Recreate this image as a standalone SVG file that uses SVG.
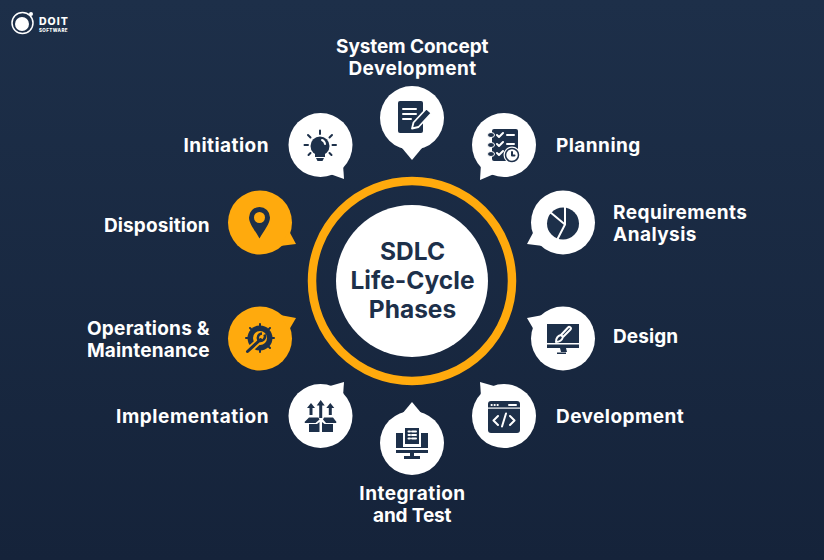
<svg xmlns="http://www.w3.org/2000/svg" width="824" height="560" viewBox="0 0 824 560">
  <style>
    .lbl { font-family: "Inter", "Liberation Sans", sans-serif; font-weight: 700; font-size: 19px; letter-spacing: 0.45px; fill: #ffffff; }
    .ttl { font-family: "Inter", "Liberation Sans", sans-serif; font-weight: 700; font-size: 24.5px; fill: #1d304a; text-anchor: middle; }
    .w { fill: #ffffff; }
    .o { fill: #ffaa0d; }
    .i { fill: #1d304a; }
    .lw { fill: none; stroke: #ffffff; stroke-width: 2; stroke-linecap: round; stroke-linejoin: round; }
    .ld { fill: none; stroke: #1d304a; stroke-width: 2; stroke-linecap: round; stroke-linejoin: round; }
  </style>
  <defs>
    <linearGradient id="bg" x1="0" y1="0" x2="0" y2="1">
      <stop offset="0" stop-color="#1d2f49"/>
      <stop offset="1" stop-color="#15233a"/>
    </linearGradient>
  </defs>
  <rect width="824" height="560" fill="url(#bg)"/>

  <g id="logo">
    <circle cx="22.500" cy="23" r="10.500" fill="none" stroke="#ffffff" stroke-width="1.500"/>
    <circle cx="22" cy="24" r="7" fill="#ffffff"/>
    <circle cx="31" cy="14" r="2" fill="#ffffff"/>
    <text x="39" y="25" font-family="Inter, 'Liberation Sans', sans-serif" font-weight="800" font-size="10.500" letter-spacing="1" fill="#ffffff">DOIT</text>
    <text x="39" y="31.500" font-family="Inter, 'Liberation Sans', sans-serif" font-weight="800" font-size="4.500" letter-spacing="0.400" fill="#ffffff">SOFTWARE</text>
  </g>

  <g id="center">
    <circle cx="412" cy="281" r="100" fill="none" stroke="#ffaa0d" stroke-width="8.500"/>
    <circle cx="412" cy="281" r="76" fill="#ffffff"/>
    <text class="ttl" x="412.500" y="260">SDLC</text>
    <text class="ttl" x="412.500" y="289">Life-Cycle</text>
    <text class="ttl" x="412.500" y="318">Phases</text>
  </g>

  <g id="system-concept">
    <circle class="w" cx="412" cy="118" r="32"/>
    <path class="w" d="M412 160L402 148H422Z"/>
    <rect class="i" x="398" y="101" width="25" height="32" rx="2"/>
    <path class="lw" d="M403 109H416M403 114H416M403 119H411" stroke-width="1.800"/>
    <path class="i" d="M412 128.500l1.500-6 13-14 5 4.500-13 14Z" stroke="#ffffff" stroke-width="1.800" stroke-linejoin="round"/>
    <text class="lbl" x="336" y="52.500" textLength="153">System Concept</text>
    <text class="lbl" x="412.500" y="74.500" text-anchor="middle">Development</text>
  </g>

  <g id="initiation">
    <circle class="w" cx="320.500" cy="145" r="32"/>
    <path class="w" d="M344 179L330 174L343 164Z"/>
    <circle class="i" cx="320" cy="146" r="9.500"/>
    <path class="i" d="M315 153h10v4h-10ZM316 158h8l-1.500 3h-5Z"/>
    <path class="lw" d="M322 140a5 5 0 0 1 3 4" stroke-width="1.500"/>
    <path class="ld" d="M320 130.500v3.500M308 135l2.500 2.500M332 135l-2.500 2.500M304.500 145h3.500M332.500 145h3.500M308.500 155l2-2M331.500 155l-2-2"/>
    <text class="lbl" x="269" y="151.500" text-anchor="end">Initiation</text>
  </g>

  <g id="planning">
    <circle class="w" cx="504" cy="145" r="32"/>
    <path class="w" d="M480 180L494 174L481 164Z"/>
    <rect class="i" x="492" y="129" width="26" height="32" rx="2"/>
    <ellipse class="i" cx="491" cy="135" rx="3.500" ry="2.500" stroke="#ffffff" stroke-width="1"/>
    <ellipse class="i" cx="491" cy="145" rx="3.500" ry="2.500" stroke="#ffffff" stroke-width="1"/>
    <ellipse class="i" cx="491" cy="154" rx="3.500" ry="2.500" stroke="#ffffff" stroke-width="1"/>
    <path class="lw" d="M497 135l2 2 4-4M497 144l2 2 4-4M497 153l2 2 4-4M507 135h7M507 144h7" stroke-width="1.500"/>
    <circle class="w" cx="512" cy="155" r="8.500"/>
    <circle cx="512" cy="155" r="6.500" fill="none" stroke="#1d304a" stroke-width="1.500"/>
    <path class="ld" d="M512 152v3.500h2.500" stroke-width="1.200"/>
    <text class="lbl" x="556" y="151.500">Planning</text>
  </g>

  <g id="requirements">
    <circle class="w" cx="563" cy="222.500" r="32"/>
    <path class="w" d="M527 244L534 231L543 246Z"/>
    <circle class="i" cx="563" cy="223.500" r="16"/>
    <path class="lw" d="M550 212L565 224.500L557 240M565 205V224.500" stroke-width="2.400" stroke-linecap="butt"/>
    <text class="lbl" x="613" y="218.500">Requirements</text>
    <text class="lbl" x="613" y="240.500">Analysis</text>
  </g>

  <g id="design">
    <circle class="w" cx="563" cy="338.500" r="32"/>
    <path class="w" d="M527 318L543 315L534 330Z"/>
    <rect class="i" x="547" y="324" width="32" height="19"/>
    <rect class="i" x="547" y="344.500" width="32" height="3.500"/>
    <path class="i" d="M560 348h6l1 4h-6ZM557 352.500h9v1.500h-9Z"/>
    <path class="lw" d="M556 342c0-3 1-6 5-7l2 2c-1 3-3 5-7 5ZM561 335l7-7.500a1.500 1.500 0 0 1 2.500 2L563 337" stroke-width="1.500"/>
    <text class="lbl" x="613" y="342.500" textLength="65.500">Design</text>
  </g>

  <g id="development">
    <circle class="w" cx="504" cy="416" r="32"/>
    <path class="w" d="M480 382L494 386L481 396Z"/>
    <rect class="i" x="488" y="401" width="32" height="32" rx="3"/>
    <rect class="w" x="488" y="407.500" width="32" height="1.200"/>
    <path class="lw" d="M491.500 405h.3M494.500 405h.3M497.500 405h.3M509 405h7" stroke-width="1.500"/>
    <path class="lw" d="M498 416l-4.500 4.500 4.500 4.500M510 416l4.500 4.500-4.500 4.500M506 413.500l-4 13" stroke-width="1.800"/>
    <text class="lbl" x="556" y="422.500">Development</text>
  </g>

  <g id="integration">
    <circle class="w" cx="412" cy="443" r="32"/>
    <path class="w" d="M412 402L402 414H422Z"/>
    <rect class="i" x="396" y="433" width="32" height="15"/>
    <rect class="w" x="403" y="428" width="18" height="19"/>
    <rect class="i" x="405" y="428" width="14" height="16"/>
    <rect class="i" x="396" y="450" width="32" height="3"/>
    <path class="i" d="M410 453h4v3h6v3h-16v-3h6Z"/>
    <path class="lw" d="M408.500 431.500h1.500M412 431.500h4M408.500 435h1.500M412 435h4M408.500 438.500h1.500M412 438.500h4" stroke-width="1.300" stroke-linecap="butt"/>
    <text class="lbl" x="412.500" y="499.500" text-anchor="middle">Integration</text>
    <text class="lbl" x="373" y="521.500" textLength="79">and Test</text>
  </g>

  <g id="implementation">
    <circle class="w" cx="320.500" cy="416" r="32"/>
    <path class="w" d="M344 382L330 386L343 396Z"/>
    <path class="i" d="M311 403l4 5h-2.500v7h-3v-7H307ZM320.700 400l4 5.500h-2.500v12.500h-3v-12.500h-2.500ZM330.300 403l4 5h-2.500v7h-3v-7h-2.500Z"/>
    <path class="i" d="M309 417.500h9.500l1 2-4 3.500H305l-.5-1ZM323 419.500l1-2h9l3.500 4.500-.5 1h-10Z"/>
    <path class="i" d="M309 424h8l2.500-2V432H309ZM322 422l2.500 2h8.500v8H322Z"/>
    <text class="lbl" x="116" y="422.500" textLength="153">Implementation</text>
  </g>

  <g id="disposition">
    <circle class="o" cx="260" cy="222.500" r="32"/>
    <path class="o" d="M296 244L289 231L280 246Z"/>
    <path class="i" d="M259.500 207a10.500 10.500 0 0 1 10.500 10.500c0 6-6 13-10.500 21-4.500-8-10.500-15-10.500-21A10.500 10.500 0 0 1 259.500 207Z"/>
    <circle class="o" cx="259.500" cy="217.500" r="5.500"/>
    <text class="lbl" x="104" y="231.500" textLength="106">Disposition</text>
  </g>

  <g id="operations">
    <circle class="o" cx="260" cy="338.500" r="32"/>
    <path class="o" d="M296 318L280 315L289 330Z"/>
    <circle class="i" cx="260" cy="338" r="12.500"/>
    <path class="ld" d="M260 324v3M260 349v3M246 338h3M271 338h3M250 328l2.200 2.200M267.800 345.800l2.200 2.200M270 328l-2.200 2.200M252.200 345.800l-2.200 2.200" stroke-width="4.500" stroke-linecap="butt"/>
    <circle class="o" cx="260" cy="338" r="7"/>
    <path d="M247 352l13-12" stroke="#ffaa0d" stroke-width="6.500" stroke-linecap="round"/>
    <path d="M247.500 351.500l13-12" stroke="#1d304a" stroke-width="3" stroke-linecap="round"/>
    <path d="M258.500 340.500a4.500 4.500 0 0 1 3.500-7M264.500 334.500a4.500 4.500 0 0 1-6 6" fill="none" stroke="#1d304a" stroke-width="2.500"/>
    <text class="lbl" x="87" y="334.500" textLength="123">Operations &amp;</text>
    <text class="lbl" x="87" y="356.500" textLength="123">Maintenance</text>
  </g>
</svg>
